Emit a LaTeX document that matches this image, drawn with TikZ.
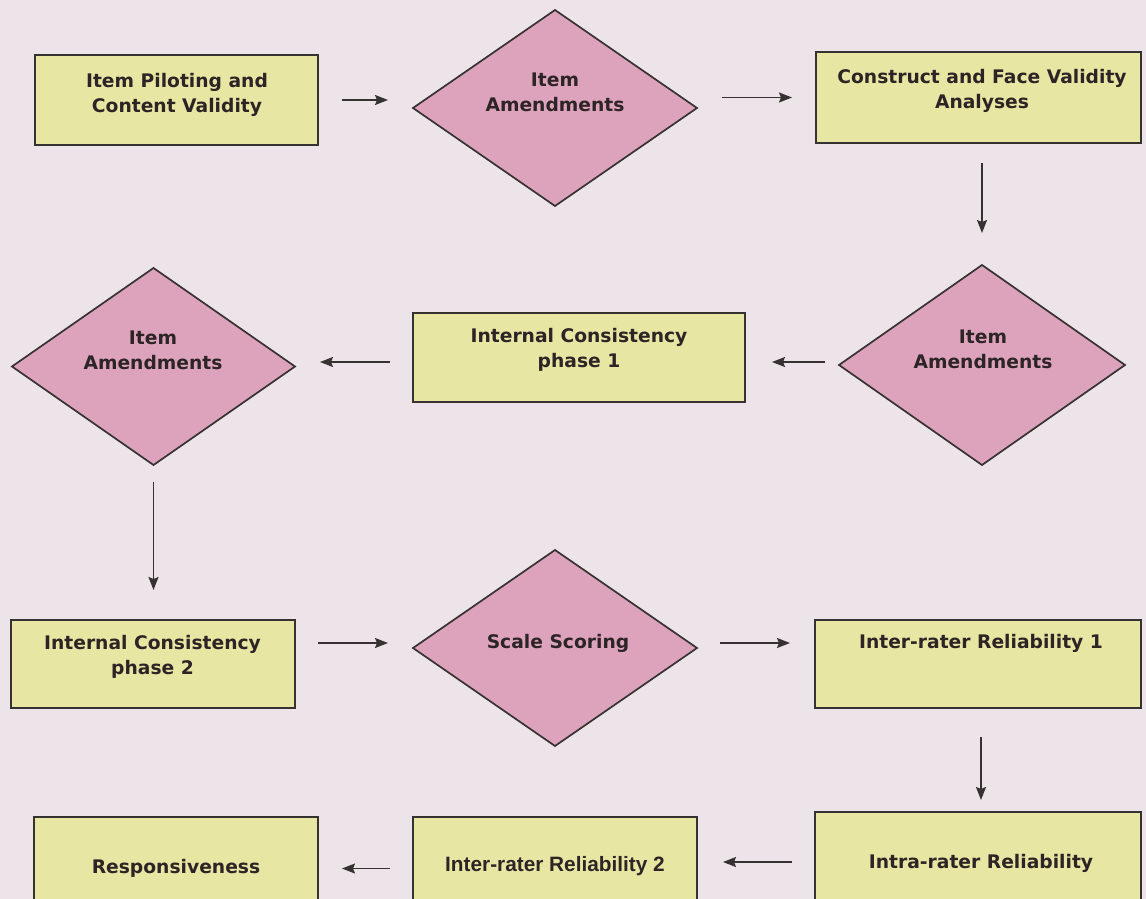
\documentclass[tikz,border=0pt]{standalone}
\usepackage{fontspec}
\setmainfont{DejaVu Sans}
\newfontfamily\arialb{Liberation Sans}
\usetikzlibrary{shapes.geometric,arrows.meta}
\definecolor{bgc}{RGB}{237,228,234}
\definecolor{boxc}{RGB}{232,230,163}
\definecolor{diac}{RGB}{221,163,189}
\definecolor{linec}{RGB}{55,50,50}
\definecolor{txtc}{RGB}{45,36,38}
\tikzset{
  box/.style={draw=linec, fill=boxc, line width=1.8pt, rectangle, inner sep=0pt, outer sep=0pt},
  dia/.style={draw=linec, fill=diac, line width=1.7pt, diamond, inner sep=0pt, outer sep=0pt},
  lbl/.style={text=txtc, font=\fontsize{18.7}{25}\selectfont\bfseries, align=center, inner sep=0pt},
  lblr/.style={text=txtc, font=\arialb\fontsize{20.8}{25}\selectfont\bfseries, align=center, inner sep=0pt},
  arr/.style={draw=linec, line width=1.7pt, -{Stealth[length=13pt,width=10pt,inset=2pt]}}
}
\begin{document}
\begin{tikzpicture}[x=1pt,y=-1pt]
\useasboundingbox (0,0) rectangle (1146,899);
\clip (0,0) rectangle (1146,899);
\fill[bgc] (0,0) rectangle (1146,899);
% nodes
\node[box, minimum width=283pt, minimum height=90pt] (b1) at (176.5,100) {};
\node[dia, minimum width=284pt, minimum height=196pt] (d1) at (555,108) {};
\node[box, minimum width=325pt, minimum height=91pt] (b3) at (978.5,97.5) {};
\node[dia, minimum width=286pt, minimum height=200pt] (d2) at (982,365) {};
\node[box, minimum width=332pt, minimum height=89pt] (ic1) at (579,357.5) {};
\node[dia, minimum width=283pt, minimum height=197pt] (d3) at (153.5,366.5) {};
\node[box, minimum width=284pt, minimum height=88pt] (ic2) at (153,664) {};
\node[dia, minimum width=284pt, minimum height=196pt] (d4) at (555,648) {};
\node[box, minimum width=326pt, minimum height=88pt] (irr1) at (978,664) {};
\node[box, minimum width=326pt, minimum height=98pt] (intra) at (978,861) {};
\node[box, minimum width=284pt, minimum height=93pt] (irr2) at (555,863.5) {};
\node[box, minimum width=284pt, minimum height=93pt] (resp) at (176,863.5) {};
% labels
\node[lbl] (t1) at (177,95) {Item Piloting and\\Content Validity};
\node[lbl] (t2) at (555,92.5) {Item\\Amendments};
\node[lbl] (t3) at (982,90.5) {Construct and Face Validity\\Analyses};
\node[lbl] (t4) at (983,349.5) {Item\\Amendments};
\node[lbl] (t5) at (579,349.5) {Internal Consistency\\phase 1};
\node[lbl] (t6) at (153,350.5) {Item\\Amendments};
\node[lbl] (t7) at (152.5,656.5) {Internal Consistency\\phase 2};
\node[lbl] (t8) at (558,643) {Scale Scoring};
\node[lbl] (t9) at (981,643) {Inter-rater Reliability 1};
\node[lbl] (t10) at (981,863) {Intra-rater Reliability};
\node[lblr] (t11) at (555,866) {Inter-rater Reliability 2};
\node[lbl] (t12) at (176,868) {Responsiveness};
% connectors
\draw[arr, shorten <=24pt, shorten >=25pt] (b1.east) -- (b1.east -| d1.west);
\draw[arr, shorten <=25pt, shorten >=24pt] (d1.east |- b3.west) -- (b3.west);
\draw[arr, shorten <=20pt, shorten >=32pt] (b3.south -| d2.north) -- (d2.north);
\draw[arr, shorten <=14pt, shorten >=27pt] ([yshift=3pt]d2.west) -- ([yshift=3pt]d2.west -| ic1.east);
\draw[arr, shorten <=23pt, shorten >=25pt] ([yshift=-4.5pt]ic1.west) -- ([yshift=-4.5pt]ic1.west -| d3.east);
\draw[arr, shorten <=17pt, shorten >=30pt] (d3.south) -- (d3.south |- ic2.north);
\draw[arr, shorten <=23pt, shorten >=25pt] ([yshift=5pt]d4.west -| ic2.east) -- ([yshift=5pt]d4.west);
\draw[arr, shorten <=23pt, shorten >=25pt] ([yshift=5pt]d4.east) -- ([yshift=5pt]d4.east -| irr1.west);
\draw[arr, shorten <=29pt, shorten >=12pt] ([xshift=3pt]irr1.south) -- ([xshift=3pt]irr1.south |- intra.north);
\draw[arr, shorten <=23pt, shorten >=26pt] ([yshift=-1pt]intra.west) -- ([yshift=-1pt]intra.west -| irr2.east);
\draw[arr, shorten <=23pt, shorten >=24pt] ([yshift=-5pt]irr2.west) -- ([yshift=-5pt]irr2.west -| resp.east);
\end{tikzpicture}
\end{document}
